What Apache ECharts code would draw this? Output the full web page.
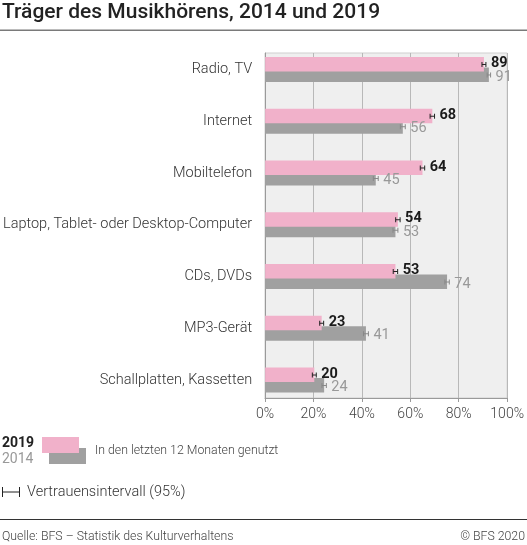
<!DOCTYPE html>
<html>
<head>
<meta charset="utf-8">
<script src="https://cdn.jsdelivr.net/npm/echarts@6/dist/echarts.min.js"></script>
<style>
  html, body { margin: 0; padding: 0; background: #fff; }
  #chart { width: 527px; height: 545px; }
</style>
</head>
<body>
<div id="chart"></div>
<script>
// Träger des Musikhörens, Anteil in %
var categories = [
  "Radio, TV",
  "Internet",
  "Mobiltelefon",
  "Laptop, Tablet- oder Desktop-Computer",
  "CDs, DVDs",
  "MP3-Gerät",
  "Schallplatten, Kassetten"
];
var values2019 = [89, 68, 64, 54, 53, 23, 20];
var values2014 = [91, 56, 45, 53, 74, 41, 24];
// halbe Breite Vertrauensintervall (Prozentpunkte), geschätzt
var ci2019 = [0.8, 0.9, 0.9, 0.9, 0.9, 0.8, 0.8];
var ci2014 = [0.7, 1.0, 1.0, 1.0, 0.9, 1.0, 0.9];
var xTicks = [0, 20, 40, 60, 80, 100];

var PINK = "#f1b1ca";
var GREY = "#a0a0a0";
var FONT = "Roboto, 'Noto Sans', sans-serif";

function errorData(vals, cis) {
  return vals.map(function (v, i) { return [v, i, cis[i]]; });
}

// Fehlerbalken + Wertbeschriftung
function errorRender(offset, labelOffset, lineColor, textColor, weight) {
  return function (params, api) {
    var v = api.value(0), idx = api.value(1), ci = api.value(2);
    var y = api.coord([v, idx])[1] + offset;
    var x1 = api.coord([v - ci, idx])[0];
    var x2 = api.coord([v + ci, idx])[0];
    var st = { stroke: lineColor, lineWidth: 1 };
    return {
      type: "group",
      children: [
        { type: "line", shape: { x1: x1, y1: y, x2: x2, y2: y }, style: st },
        { type: "line", shape: { x1: x1, y1: y - 2.5, x2: x1, y2: y + 2.5 }, style: st },
        { type: "line", shape: { x1: x2, y1: y - 2.5, x2: x2, y2: y + 2.5 }, style: st },
        {
          type: "text",
          style: {
            text: String(v),
            x: x2 + 5,
            y: api.coord([v, idx])[1] + labelOffset,
            fill: textColor,
            font: weight + " 14.5px " + FONT,
            verticalAlign: "middle"
          }
        }
      ]
    };
  };
}

var chart = echarts.init(document.getElementById("chart"));

chart.setOption({
  animation: false,
  textStyle: { fontFamily: FONT },
  grid: [
    // Rahmen mit Hintergrund und Gitter
    { left: 265, right: 16, top: 53, bottom: 147, show: true,
      backgroundColor: "#efefef", borderColor: "#cfcfcf", borderWidth: 1 },
    // Balken
    { left: 265, right: 16, top: 43.6, bottom: 139.1 }
  ],
  xAxis: [
    {
      gridIndex: 0, type: "value", min: 0, max: 100, interval: 20,
      axisLine: { show: true, lineStyle: { color: "#9a9a9a" } },
      axisTick: { show: true, length: 4, lineStyle: { color: "#9a9a9a" } },
      splitLine: { show: true, lineStyle: { color: "#b8b8b8" } },
      axisLabel: {
        color: "#444", fontSize: 14, fontWeight: 300, margin: 9,
        formatter: function (v) { return xTicks.indexOf(v) >= 0 ? v + "%" : ""; }
      }
    },
    { gridIndex: 1, type: "value", min: 0, max: 100, show: false }
  ],
  yAxis: [
    {
      gridIndex: 0, type: "value", min: 0, max: 1,
      axisLine: { show: true, lineStyle: { color: "#9a9a9a" } },
      axisTick: { show: false }, axisLabel: { show: false }, splitLine: { show: false }
    },
    {
      gridIndex: 1, type: "category", data: categories, inverse: true,
      axisLine: { show: false }, axisTick: { show: false },
      axisLabel: { color: "#333", fontSize: 14.5, fontWeight: 300, margin: 13 }
    }
  ],
  series: [
    {
      name: "2019", type: "bar", xAxisIndex: 1, yAxisIndex: 1,
      data: values2019, barWidth: 14.5, barGap: "-28%",
      itemStyle: { color: PINK }, z: 3
    },
    {
      name: "2014", type: "bar", xAxisIndex: 1, yAxisIndex: 1,
      data: values2014, barWidth: 14.5, barGap: "-28%",
      itemStyle: { color: GREY }, z: 2
    },
    {
      type: "custom", xAxisIndex: 1, yAxisIndex: 1, z: 5,
      data: errorData(values2014, ci2014),
      renderItem: errorRender(5.5, 7.5, "#888", "#999", "normal")
    },
    {
      type: "custom", xAxisIndex: 1, yAxisIndex: 1, z: 6,
      data: errorData(values2019, ci2019),
      renderItem: errorRender(-5, -6, "#222", "#1a1a1a", "bold")
    }
  ],
  graphic: [
    { type: "text", left: 2, top: 2,
      style: { text: "Träger des Musikhörens, 2014 und 2019", fill: "#222",
               font: "500 21px " + FONT } },
    { type: "rect", shape: { x: 0, y: 29.5, width: 527, height: 1.5 }, style: { fill: "#7a7a7a" } },

    // Legende
    { type: "text", x: 2, y: 443, style: { text: "2019", fill: "#222", font: "bold 14px " + FONT, verticalAlign: "middle" } },
    { type: "text", x: 2, y: 459, style: { text: "2014", fill: "#999", font: "14px " + FONT, verticalAlign: "middle" } },
    { type: "rect", shape: { x: 49, y: 448, width: 37, height: 16 }, style: { fill: GREY } },
    { type: "rect", shape: { x: 42, y: 437, width: 37, height: 16 }, style: { fill: PINK } },
    { type: "text", x: 95, y: 451, style: { text: "In den letzten 12 Monaten genutzt", fill: "#444",
      font: "300 12.3px " + FONT, verticalAlign: "middle" } },

    { type: "line", shape: { x1: 2, y1: 492, x2: 20, y2: 492 }, style: { stroke: "#222", lineWidth: 1 } },
    { type: "line", shape: { x1: 2.5, y1: 487, x2: 2.5, y2: 497 }, style: { stroke: "#222", lineWidth: 1 } },
    { type: "line", shape: { x1: 19.5, y1: 487, x2: 19.5, y2: 497 }, style: { stroke: "#222", lineWidth: 1 } },
    { type: "text", x: 27, y: 492, style: { text: "Vertrauensintervall (95%)", fill: "#333",
      font: "300 14.5px " + FONT, verticalAlign: "middle" } },

    // Fusszeile
    { type: "rect", shape: { x: 0, y: 519, width: 527, height: 1 }, style: { fill: "#333" } },
    { type: "text", x: 2, y: 537, style: { text: "Quelle: BFS – Statistik des Kulturverhaltens", fill: "#444",
      font: "300 12.3px " + FONT, verticalAlign: "middle" } },
    { type: "text", x: 525, y: 537, style: { text: "© BFS 2020", fill: "#444",
      font: "300 12.3px " + FONT, verticalAlign: "middle", align: "right" } }
  ]
});
</script>
</body>
</html>
